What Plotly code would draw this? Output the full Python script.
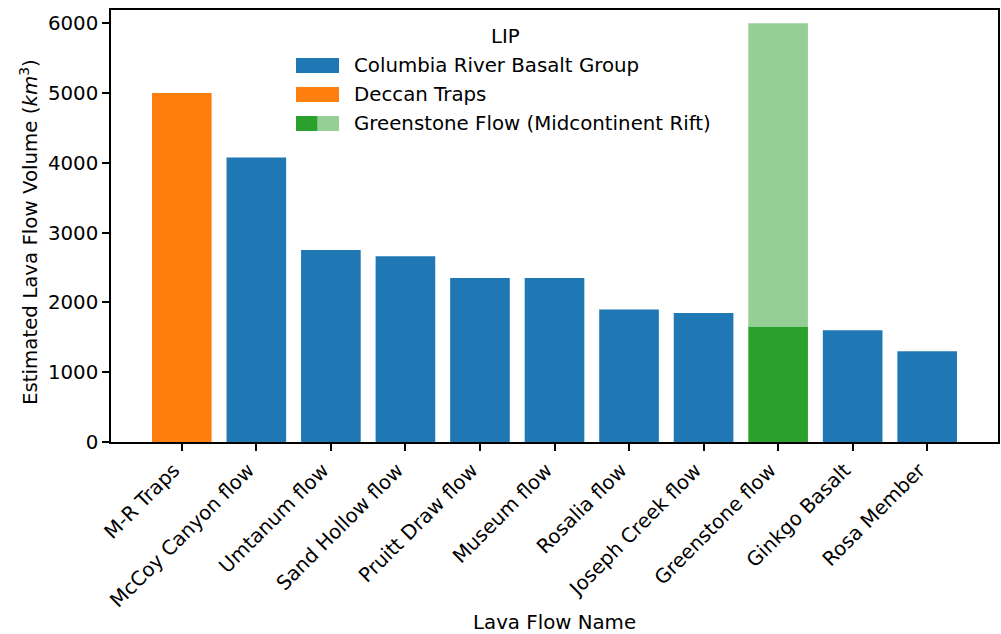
import plotly.graph_objects as go

# Lava flow volumes (km^3) grouped by large igneous province
flow_names = ["M-R Traps", "McCoy Canyon flow", "Umtanum flow", "Sand Hollow flow",
              "Pruitt Draw flow", "Museum flow", "Rosalia flow", "Joseph Creek flow",
              "Greenstone flow", "Ginkgo Basalt", "Rosa Member"]
volumes = [5000, 4075, 2750, 2660, 2350, 2350, 1900, 1850, 1650, 1600, 1300]
lip = ["Deccan Traps", "Columbia River Basalt Group", "Columbia River Basalt Group",
       "Columbia River Basalt Group", "Columbia River Basalt Group",
       "Columbia River Basalt Group", "Columbia River Basalt Group",
       "Columbia River Basalt Group", "Greenstone Flow (Midcontinent Rift)",
       "Columbia River Basalt Group", "Columbia River Basalt Group"]
# Greenstone flow volume is uncertain: lower estimate and upper estimate
greenstone_low = 1650
greenstone_high = 6000
y_ticks = [0, 1000, 2000, 3000, 4000, 5000, 6000]

lip_colors = {
    "Columbia River Basalt Group": "#1f77b4",
    "Deccan Traps": "#ff7f0e",
    "Greenstone Flow (Midcontinent Rift)": "#2ca02c",
}
light_green = "rgba(44,160,44,0.5)"
FONT = "DejaVu Sans"
FS = 19.8

fig = go.Figure()

# Upper-estimate band for the Greenstone flow
fig.add_trace(go.Bar(
    x=["Greenstone flow"], y=[greenstone_high - greenstone_low], base=[greenstone_low],
    marker=dict(color=light_green, line=dict(width=0)), width=0.8, showlegend=False,
))

for group, color in lip_colors.items():
    xs = [n for n, g in zip(flow_names, lip) if g == group]
    ys = [v for v, g in zip(volumes, lip) if g == group]
    fig.add_trace(go.Bar(
        x=xs, y=ys, marker=dict(color=color, line=dict(width=0)),
        width=0.8, name=group, showlegend=False,
    ))

# Plot-area geometry in pixels, used to place the hand-built legend and titles
L, R, T, B = 111, 998, 10, 442
W, H = R - L, B - T


def px(xp):
    return (xp - L) / W


def py(yp):
    return (B - yp) / H


shapes = []
annotations = []

legend_rows = [
    ("Columbia River Basalt Group", 65.5, [lip_colors["Columbia River Basalt Group"]]),
    ("Deccan Traps", 94.5, [lip_colors["Deccan Traps"]]),
    ("Greenstone Flow (Midcontinent Rift)", 123.5,
     [lip_colors["Greenstone Flow (Midcontinent Rift)"], light_green]),
]
sw_x0, sw_x1, sw_h = 296, 339, 15
for label, yc, cols in legend_rows:
    n = len(cols)
    seg = (sw_x1 - sw_x0) / n
    for i, c in enumerate(cols):
        shapes.append(dict(type="rect", xref="paper", yref="paper",
                           x0=px(sw_x0 + i * seg), x1=px(sw_x0 + (i + 1) * seg),
                           y0=py(yc + sw_h / 2), y1=py(yc - sw_h / 2),
                           fillcolor=c, line=dict(width=0), layer="above"))
    annotations.append(dict(text=label, xref="paper", yref="paper", x=px(352), y=py(yc),
                            xanchor="left", yanchor="middle", showarrow=False,
                            font=dict(family=FONT, size=FS, color="black")))

annotations.append(dict(text="LIP", xref="paper", yref="paper", x=px(505), y=py(36),
                        xanchor="center", yanchor="middle", showarrow=False,
                        font=dict(family=FONT, size=FS, color="black")))

annotations.append(dict(text="Lava Flow Name", xref="paper", yref="paper",
                        x=0.5, y=py(622), xanchor="center", yanchor="middle",
                        showarrow=False, font=dict(family=FONT, size=FS, color="black")))
annotations.append(dict(text="Estimated Lava Flow Volume (<i>km</i><sup>3</sup>)",
                        xref="paper", yref="paper", x=px(29), y=py(232),
                        xanchor="center", yanchor="middle", textangle=-90,
                        showarrow=False, font=dict(family=FONT, size=FS, color="black")))

fig.update_layout(
    width=1001, height=634,
    margin=dict(l=L, r=1001 - R, t=T, b=634 - B, autoexpand=False),
    paper_bgcolor="white", plot_bgcolor="white",
    barmode="overlay", showlegend=False,
    font=dict(family=FONT, size=FS, color="black"),
    shapes=shapes, annotations=annotations,
)
fig.update_xaxes(
    type="category", categoryorder="array", categoryarray=flow_names,
    range=[-0.95, 10.95], tickangle=-45, ticklabelshift=-8,
    showline=True, mirror=True, linecolor="black", linewidth=1.6,
    ticks="outside", ticklen=7, tickwidth=1.6, tickcolor="black",
    showgrid=False, zeroline=False, automargin=False,
    tickfont=dict(family=FONT, size=FS, color="black"),
)
fig.update_yaxes(
    range=[0, 6190], tickvals=y_ticks,
    showline=True, mirror=True, linecolor="black", linewidth=1.6,
    ticks="outside", ticklen=7, tickwidth=1.6, tickcolor="black",
    showgrid=False, zeroline=False, automargin=False,
    tickfont=dict(family=FONT, size=FS, color="black"),
)

fig.write_html("out.html")
